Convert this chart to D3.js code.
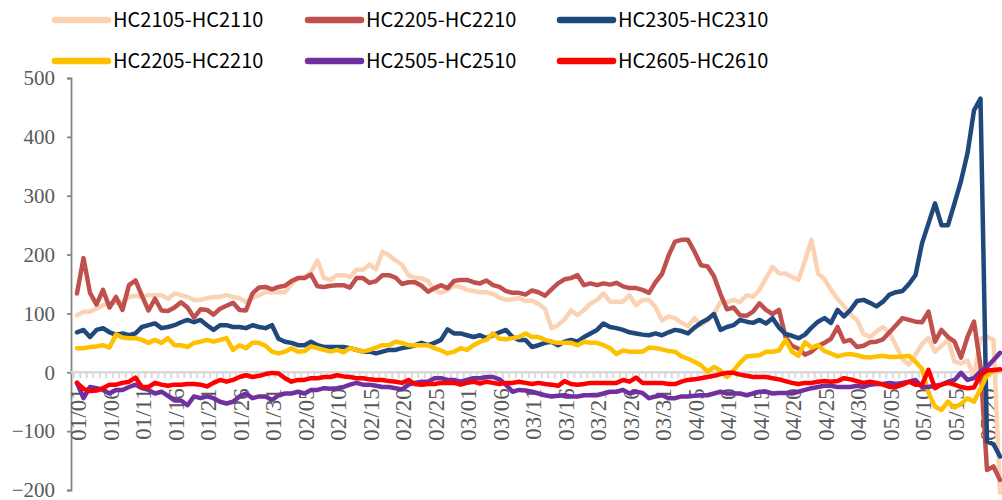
<!DOCTYPE html>
<html><head><meta charset="utf-8">
<script src="https://cdn.jsdelivr.net/npm/d3@7"></script>
<style>body{margin:0;background:#fff}svg{display:block}</style>
</head><body>
<svg id="c" width="1002" height="500"></svg>
<script>
// ---- categories (every calendar day 01/01 .. 05/22, leap year axis) ----
const fmt = d3.timeFormat("%m/%d");
const categories = d3.timeDay.range(new Date(2024,0,1), new Date(2024,4,23)).map(fmt);
const tickLabels = ["01/01","01/06","01/11","01/16","01/21","01/26","01/31","02/05","02/10","02/15","02/20","02/25","03/01","03/06","03/11","03/16","03/21","03/26","03/31","04/05","04/10","04/15","04/20","04/25","04/30","05/05","05/10","05/15","05/20"];
const yTicks = [-200,-100,0,100,200,300,400,500];

const seriesNames = ["HC2105-HC2110","HC2205-HC2210","HC2305-HC2310","HC2205-HC2210","HC2505-HC2510","HC2605-HC2610"];
const seriesColors = ["#FBD3B4","#C0504D","#1F497D","#FFC000","#7030A0","#FF0000"];

const s2105 = [97,103,103,108,114,118,118,120,128,130,
128,131,131,131,125,134,131,128,123,123,
126,128,128,131,128,126,120,126,131,136,
136,136,136,150,160,162,170,190,160,157,
165,165,162,174,174,183,175,205,199,190,
183,165,160,160,155,140,135,140,147,145,
140,138,136,136,133,127,123,124,126,121,
122,116,108,75,80,90,105,97,106,117,
123,134,120,120,120,131,114,123,123,111,
88,95,92,84,78,92,80,88,100,119,
119,123,119,131,128,140,160,179,168,168,
162,157,190,225,168,158,140,125,112,98,
89,65,60,69,77,67,45,22,13,30,
48,58,35,45,55,18,15,20,-8,57,
60,55,-205];

const s2205 = [134,194,135,115,140,110,128,106,148,156,
130,105,125,105,104,110,119,110,93,107,
106,98,108,113,118,106,105,134,144,145,
141,145,147,155,160,160,166,146,145,147,
148,148,144,160,160,152,155,165,165,161,
150,153,153,147,137,143,148,143,155,157,
157,153,151,156,148,145,138,135,135,132,
139,136,130,141,151,158,160,165,148,151,
148,151,149,152,146,143,143,140,135,153,
167,198,222,225,225,205,182,180,163,133,
107,110,97,96,103,117,106,99,106,60,
45,40,30,35,45,50,57,77,52,55,
43,45,51,52,56,68,80,92,89,86,
85,103,52,72,60,52,25,60,86,10,
-166,-160,-183];

const s2305 = [68,72,60,72,75,68,64,66,63,66,
77,80,83,75,77,80,85,89,85,89,
80,72,80,80,77,77,75,80,77,75,
80,57,52,50,46,46,52,46,43,43,
43,43,41,38,35,35,32,35,38,38,
41,43,46,50,46,50,55,73,66,66,
63,60,63,58,63,68,72,60,55,55,
43,46,50,52,46,52,55,52,60,66,
72,83,77,75,72,68,66,64,63,66,
63,68,72,70,66,76,84,90,99,72,
77,80,89,86,84,89,83,92,76,65,
62,58,64,76,86,92,84,106,95,106,
121,123,118,112,120,132,136,138,150,165,
219,253,287,250,250,287,325,372,445,465,
-118,-122,-143];

const s2405 = [41,41,43,44,46,42,64,59,58,58,
55,50,55,50,58,46,46,43,50,52,
55,52,55,58,38,46,41,50,50,45,
35,32,35,41,35,36,44,41,38,35,
38,34,41,38,35,38,42,46,46,52,
50,46,46,46,46,41,37,32,35,41,
38,46,52,55,66,57,56,58,60,66,
60,60,55,52,50,50,50,46,52,50,
50,46,41,31,37,35,35,35,42,41,
39,36,35,27,23,18,12,1,9,3,
-8,3,16,27,28,29,35,35,37,55,
35,28,51,42,46,36,32,27,30,31,
29,26,25,27,28,26,26,27,28,18,
6,-35,-58,-64,-50,-60,-54,-44,-50,-28,
-5,2,4];

const s2505 = [-18,-44,-25,-27,-30,-36,-30,-30,-25,-21,
-27,-30,-36,-33,-40,-48,-48,-56,-41,-44,
-41,-44,-50,-53,-50,-41,-36,-44,-41,-41,
-47,-39,-36,-36,-33,-36,-30,-30,-27,-28,
-27,-25,-21,-18,-21,-21,-23,-25,-25,-27,
-29,-21,-18,-16,-16,-10,-10,-13,-13,-16,
-13,-10,-10,-8,-8,-12,-21,-33,-30,-31,
-33,-36,-39,-41,-40,-39,-41,-41,-39,-39,
-39,-36,-33,-33,-30,-36,-33,-35,-44,-41,
-39,-44,-44,-41,-41,-40,-39,-39,-36,-33,
-36,-36,-36,-39,-36,-33,-33,-36,-35,-35,
-36,-33,-30,-27,-25,-23,-23,-25,-25,-25,
-23,-25,-21,-20,-20,-18,-20,-18,-16,-13,
-25,-25,-23,-21,-16,-13,-1,-13,-10,1,
9,21,33];

const s2605 = [-18,-28,-32,-31,-27,-21,-21,-18,-16,-9,
-25,-25,-18,-21,-23,-21,-21,-20,-20,-21,
-24,-18,-13,-16,-13,-8,-5,-8,-6,-3,
-1,-2,-10,-16,-13,-13,-10,-10,-8,-8,
-5,-7,-8,-10,-10,-12,-13,-13,-15,-16,
-18,-13,-20,-21,-20,-20,-18,-18,-18,-21,
-18,-16,-19,-16,-18,-20,-18,-18,-16,-18,
-20,-18,-20,-21,-23,-15,-20,-21,-20,-18,
-18,-18,-18,-18,-13,-16,-9,-18,-18,-18,
-18,-20,-20,-16,-13,-12,-10,-8,-6,-3,
-1,-1,-4,-6,-8,-8,-8,-10,-12,-15,
-18,-20,-18,-18,-16,-15,-16,-15,-10,-12,
-15,-18,-16,-18,-21,-25,-25,-21,-16,-21,
-21,4,-27,-21,-18,-21,-25,-27,-26,-4,
3,4,5];

const seriesValues = [s2105, s2205, s2305, s2405, s2505, s2605];

// ---- drawing ----
const svg = d3.select("#c");
const x = d3.scalePoint().domain(categories).range([77, 1000]);
const y = d3.scaleLinear().domain([-200, 500]).range([490, 78]);
const step = x.step();

// y axis
const yAxis = svg.append("g").attr("transform", "translate(71,0)")
  .call(d3.axisLeft(y).tickValues(yTicks).tickSize(4).tickSizeOuter(4).tickPadding(12).tickFormat(d3.format("d")));
yAxis.select(".domain").attr("stroke", "#868686").attr("stroke-width", 1.8);
yAxis.selectAll(".tick line").attr("stroke", "#868686").attr("stroke-width", 1.8);
yAxis.selectAll(".tick text").attr("fill", "#595959")
  .style("font-family", "'Liberation Serif', 'Times New Roman', serif").style("font-size", "21px");

// x axis at zero
const y0 = y(0);
const xg = svg.append("g");
xg.append("line").attr("x1", 71).attr("x2", 1002).attr("y1", y0).attr("y2", y0)
  .attr("stroke", "#d9d9d9").attr("stroke-width", 2.5);
xg.selectAll("line.tk").data(categories).join("line").attr("class", "tk")
  .attr("x1", d => x(d) - step / 2).attr("x2", d => x(d) - step / 2)
  .attr("y1", y0).attr("y2", y0 + 6)
  .attr("stroke", "#d9d9d9").attr("stroke-width", 2);
xg.selectAll("text").data(tickLabels).join("text")
  .attr("transform", d => `translate(${x(d) + 1},${y0 + 16}) rotate(-90)`)
  .attr("text-anchor", "end").attr("dy", "0.35em")
  .attr("fill", "#595959")
  .style("font-family", "'Liberation Serif', 'Times New Roman', serif").style("font-size", "23px")
  .text(d => d);

// lines
const line = d3.line().x((d, i) => x(categories[i])).y(d => y(d));
seriesValues.forEach((vals, k) => {
  svg.append("path").datum(vals).attr("d", line)
    .attr("fill", "none").attr("stroke", seriesColors[k])
    .attr("stroke-width", 4.5).attr("stroke-linejoin", "round").attr("stroke-linecap", "round");
});

// legend
const legendCols = [53, 306, 558];
const legendRows = [20, 61];
const lg = svg.append("g");
seriesNames.forEach((name, k) => {
  const cx = legendCols[k % 3], cy = legendRows[Math.floor(k / 3)];
  lg.append("line").attr("x1", cx + 2).attr("x2", cx + 55).attr("y1", cy).attr("y2", cy)
    .attr("stroke", seriesColors[k]).attr("stroke-width", 6.5).attr("stroke-linecap", "round");
  lg.append("text").attr("x", cx + 60).attr("y", cy).attr("dy", "0.36em")
    .attr("fill", "#000")
    .style("font-family", "'Noto Sans CJK SC', 'Noto Sans', sans-serif").style("font-size", "20px")
    .text(name);
});
</script>
</body></html>
